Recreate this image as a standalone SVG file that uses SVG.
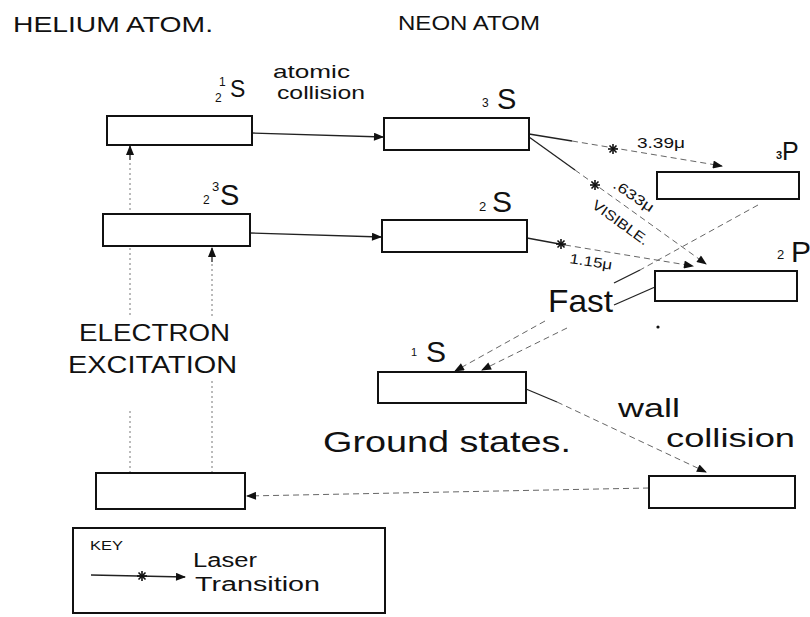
<svg xmlns="http://www.w3.org/2000/svg" width="810" height="617" viewBox="0 0 810 617">
<style>
text{font-family:"Liberation Sans",Arial,sans-serif;fill:#111}
.box{fill:#fff;stroke:#111;stroke-width:2}
.sol{stroke:#222;stroke-width:1.3;fill:none}
.dash{stroke:#666;stroke-width:1;stroke-dasharray:6 4;fill:none}
.dot{stroke:#777;stroke-width:1;stroke-dasharray:2 3;fill:none}
.star{stroke:#111;stroke-width:1.6}
</style>
<defs>
<marker id="ah" viewBox="0 0 10 8" refX="9" refY="4" markerWidth="11" markerHeight="8" markerUnits="userSpaceOnUse" orient="auto">
<path d="M0,0 L10,4 L0,8 Z" fill="#111"/>
</marker>
<g id="st" class="star">
<line x1="-5" y1="0" x2="5" y2="0"/><line x1="0" y1="-5" x2="0" y2="5"/>
<line x1="-3.5" y1="-3.5" x2="3.5" y2="3.5"/><line x1="-3.5" y1="3.5" x2="3.5" y2="-3.5"/>
</g>
</defs>

<g id="titles">
<text x="13" y="32" font-size="22" textLength="200" lengthAdjust="spacingAndGlyphs">HELIUM ATOM.</text>
<text x="398" y="30" font-size="20" textLength="142" lengthAdjust="spacingAndGlyphs">NEON ATOM</text>
</g>

<g id="connectors">
<line class="sol" x1="252" y1="133" x2="383" y2="137" marker-end="url(#ah)"/>
<line class="sol" x1="250" y1="233" x2="381" y2="237" marker-end="url(#ah)"/>
<line class="sol" x1="529" y1="134" x2="572" y2="141"/>
<line class="dash" x1="572" y1="141" x2="722" y2="166" marker-end="url(#ah)"/>
<line class="sol" x1="529" y1="137" x2="575" y2="170"/>
<line class="dash" x1="575" y1="170" x2="706" y2="264" marker-end="url(#ah)"/>
<line class="sol" x1="527" y1="238" x2="565" y2="245"/>
<line class="dash" x1="565" y1="245" x2="693" y2="266" marker-end="url(#ah)"/>
<line class="dash" x1="758" y1="205" x2="640" y2="270"/>
<line class="sol" x1="640" y1="270" x2="614" y2="283"/>
<line class="dash" x1="545" y1="321" x2="455" y2="371" marker-end="url(#ah)"/>
<line class="sol" x1="655" y1="287" x2="614" y2="305"/>
<line class="dash" x1="567" y1="328" x2="482" y2="370" marker-end="url(#ah)"/>
<line class="sol" x1="526" y1="389" x2="557" y2="402"/>
<line class="dash" x1="557" y1="402" x2="706" y2="472" marker-end="url(#ah)"/>
<line class="dash" x1="649" y1="488" x2="247" y2="496" marker-end="url(#ah)"/>
<line class="dot" x1="130" y1="473" x2="130" y2="410"/>
<line class="dot" x1="130" y1="315" x2="130" y2="160"/>
<line class="sol" x1="130" y1="160" x2="130" y2="146" marker-end="url(#ah)"/>
<line class="dot" x1="212" y1="473" x2="212" y2="380"/>
<line class="dot" x1="212" y1="316" x2="212" y2="262"/>
<line class="sol" x1="212" y1="262" x2="212" y2="248" marker-end="url(#ah)"/>
<use href="#st" x="613" y="149"/>
<use href="#st" x="595" y="185"/>
<use href="#st" x="561" y="244"/>
<circle cx="658" cy="327" r="1.6" fill="#111"/>
</g>

<g id="he-1s">
<rect class="box" x="107" y="116" width="145" height="29"/>
<text x="230" y="97" font-size="23">S</text>
<text x="219" y="86" font-size="12">1</text>
<text x="215" y="102" font-size="12">2</text>
</g>
<g id="he-3s">
<rect class="box" x="103" y="214" width="147" height="32"/>
<text x="220" y="205" font-size="29">S</text>
<text x="212" y="191" font-size="13">3</text>
<text x="203" y="204" font-size="12">2</text>
</g>
<g id="he-ground">
<rect class="box" x="96" y="473" width="149" height="36"/>
</g>

<g id="ne-3s">
<rect class="box" x="384" y="118" width="145" height="32"/>
<text x="497" y="109" font-size="29">S</text>
<text x="482" y="107" font-size="12">3</text>
</g>
<g id="ne-2s">
<rect class="box" x="382" y="220" width="145" height="32"/>
<text x="492" y="212" font-size="30">S</text>
<text x="479" y="211" font-size="13">2</text>
</g>
<g id="ne-3p">
<rect class="box" x="657" y="172" width="142" height="27"/>
<text x="782" y="160" font-size="25">P</text>
<text x="776" y="159" font-size="11" font-weight="bold">3</text>
</g>
<g id="ne-2p">
<rect class="box" x="655" y="271" width="142" height="30"/>
<text x="791" y="262" font-size="30">P</text>
<text x="777" y="259" font-size="13">2</text>
</g>
<g id="ne-1s">
<rect class="box" x="378" y="372" width="148" height="31"/>
<text x="426" y="362" font-size="30">S</text>
<text x="411" y="356" font-size="11">1</text>
</g>
<g id="ne-ground">
<rect class="box" x="649" y="476" width="146" height="32"/>
</g>

<g id="labels">
<text x="273" y="78" font-size="19" textLength="77" lengthAdjust="spacingAndGlyphs">atomic</text>
<text x="277" y="99" font-size="19" textLength="88" lengthAdjust="spacingAndGlyphs">collision</text>
<text x="637" y="148" font-size="14" textLength="48" lengthAdjust="spacingAndGlyphs">3.39μ</text>
<text transform="translate(612,187) rotate(34)" font-size="14" textLength="46" lengthAdjust="spacingAndGlyphs">.633μ</text>
<text transform="translate(591,207) rotate(36)" font-size="14" textLength="66" lengthAdjust="spacingAndGlyphs">VISIBLE.</text>
<text transform="translate(569,263) rotate(9)" font-size="14" textLength="43" lengthAdjust="spacingAndGlyphs">1.15μ</text>
<text x="548" y="312" font-size="32" textLength="65" lengthAdjust="spacingAndGlyphs">Fast</text>
<text x="79" y="341" font-size="24" textLength="151" lengthAdjust="spacingAndGlyphs">ELECTRON</text>
<text x="68" y="373" font-size="24" textLength="169" lengthAdjust="spacingAndGlyphs">EXCITATION</text>
<text x="618" y="417" font-size="26" textLength="62" lengthAdjust="spacingAndGlyphs">wall</text>
<text x="666" y="447" font-size="26" textLength="129" lengthAdjust="spacingAndGlyphs">collision</text>
<text x="323" y="452" font-size="29" textLength="248" lengthAdjust="spacingAndGlyphs">Ground states.</text>
</g>

<g id="key">
<rect class="box" x="73" y="528" width="312" height="85"/>
<text x="90" y="550" font-size="12" textLength="33" lengthAdjust="spacingAndGlyphs">KEY</text>
<line class="sol" x1="91" y1="575" x2="185" y2="577" marker-end="url(#ah)"/>
<use href="#st" x="142" y="576"/>
<text x="193" y="567" font-size="20" textLength="64" lengthAdjust="spacingAndGlyphs">Laser</text>
<text x="195" y="591" font-size="20" textLength="125" lengthAdjust="spacingAndGlyphs">Transition</text>
</g>
</svg>
